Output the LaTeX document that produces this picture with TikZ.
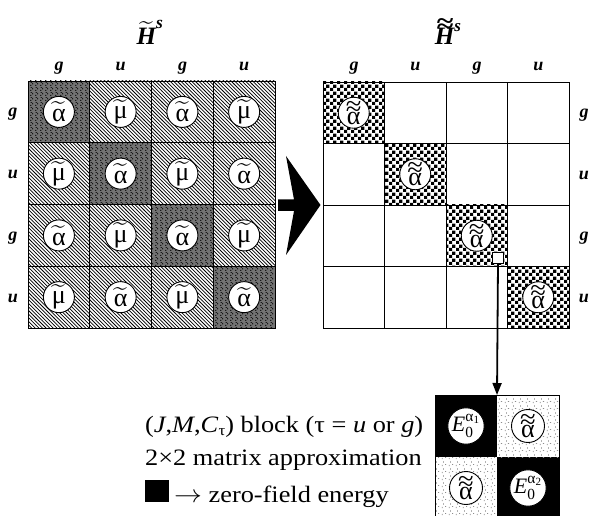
\documentclass[tikz,border=0pt]{standalone}
\usepackage{amsmath}
\usepackage{fontspec}
\setmainfont{Liberation Serif}
\usetikzlibrary{patterns,arrows.meta}
\pgfdeclarepatternformonly{mychecker}{\pgfpointorigin}{\pgfqpoint{6.6pt}{6.6pt}}{\pgfqpoint{6.6pt}{6.6pt}}{%
  \pgfpathrectangle{\pgfpointorigin}{\pgfqpoint{3.35pt}{3.35pt}}%
  \pgfpathrectangle{\pgfqpoint{3.3pt}{3.3pt}}{\pgfqpoint{3.35pt}{3.35pt}}%
  \pgfusepath{fill}}
\pgfdeclarepatternformonly{myhatch}{\pgfqpoint{-1pt}{-1pt}}{\pgfqpoint{5pt}{5pt}}{\pgfqpoint{3.6pt}{3.6pt}}{%
  \pgfsetlinewidth{0.75pt}%
  \pgfpathmoveto{\pgfqpoint{0pt}{3.6pt}}\pgfpathlineto{\pgfqpoint{3.7pt}{-0.1pt}}%
  \pgfusepath{stroke}}
\pgfdeclarepatternformonly{mydots}{\pgfpointorigin}{\pgfqpoint{7pt}{7pt}}{\pgfqpoint{7pt}{7pt}}{%
  \pgfpathrectangle{\pgfqpoint{1pt}{1pt}}{\pgfqpoint{0.8pt}{1.4pt}}%
  \pgfpathrectangle{\pgfqpoint{4.5pt}{2.5pt}}{\pgfqpoint{1.2pt}{0.7pt}}%
  \pgfpathrectangle{\pgfqpoint{2.5pt}{5pt}}{\pgfqpoint{0.7pt}{1.2pt}}%
  \pgfusepath{fill}}
\pgfdeclarepatternformonly{mynoise}{\pgfpointorigin}{\pgfqpoint{5pt}{5pt}}{\pgfqpoint{5pt}{5pt}}{%
  \pgfpathrectangle{\pgfqpoint{0pt}{0pt}}{\pgfqpoint{1.5pt}{1.2pt}}%
  \pgfpathrectangle{\pgfqpoint{2.6pt}{1.8pt}}{\pgfqpoint{1.2pt}{1.6pt}}%
  \pgfpathrectangle{\pgfqpoint{0.8pt}{3.6pt}}{\pgfqpoint{1.6pt}{1pt}}%
  \pgfusepath{fill}}
% double tilde built from the ≈ glyph stacked on a letter
\newcommand{\dtil}[2]{\leavevmode\vbox{\offinterlineskip\halign{\hfil##\hfil\cr\scalebox{#2}[1.05]{≈}\cr\noalign{\kern-3.5pt}#1\cr}}}
\newcommand{\ta}{$\widetilde{\text{α}}$}
\newcommand{\tm}{$\widetilde{\text{μ}}$}
\newcommand{\tta}{\dtil{α}{1.1}}
\newcommand{\Ez}[1]{$\text{\itshape E}_{\text{0}}^{\text{α}_{\text{#1}}}$}
\tikzset{
  elem/.style={circle,draw,fill=white,line width=0.9pt,minimum size=31pt,inner sep=0pt,font=\fontsize{26}{26}\selectfont},
  selem/.style={circle,draw,fill=white,line width=0.9pt,minimum size=33pt,inner sep=0pt,font=\fontsize{26}{26}\selectfont},
  eelem/.style={selem,font=\fontsize{22}{22}\selectfont},
  lab/.style={anchor=base,inner sep=0pt,font=\fontsize{18}{18}\selectfont\bfseries\itshape},
  ttl/.style={anchor=base,inner sep=0pt,font=\fontsize{25}{25}\selectfont\bfseries\itshape},
  captxt/.style={anchor=base west,font=\fontsize{23.5}{23.5}\selectfont,inner sep=0pt},
  gridline/.style={draw,line width=0.8pt}
}
\begin{document}
\begin{tikzpicture}[x=1pt,y=-1pt]
\useasboundingbox (0,0) rectangle (590,516);
% ---------- left matrix ----------
\foreach \r in {0,...,3}{
  \foreach \c in {0,...,3}{
    \pgfmathsetmacro\xa{28+61.75*\c}
    \pgfmathsetmacro\ya{81+61.75*\r}
    \pgfmathtruncatemacro\pp{mod(\r+\c,2)}
    \ifnum\r=\c
      \fill[black!55] (\xa,\ya) rectangle ++(61.75,61.75);
      \fill[pattern=mynoise,pattern color=black!90] (\xa,\ya) rectangle ++(61.75,61.75);
    \else
      \fill[pattern=myhatch,pattern color=black] (\xa,\ya) rectangle ++(61.75,61.75);
    \fi
    \draw[gridline] (\xa,\ya) rectangle ++(61.75,61.75);
    \ifnum\pp=0
      \node[elem] (L\r\c) at (\xa+30.9,\ya+30.9) {\ta};
    \else
      \node[elem] (L\r\c) at (\xa+30.9,\ya+30.9) {\tm};
    \fi
  }
}
% ---------- right matrix ----------
\foreach \r in {0,...,3}{
  \foreach \c in {0,...,3}{
    \pgfmathsetmacro\xa{323+61.5*\c}
    \pgfmathsetmacro\ya{82+61.5*\r}
    \ifnum\r=\c
      \fill[pattern=mychecker,pattern color=black] (\xa,\ya) rectangle ++(61.5,61.5);
      \draw[gridline] (\xa,\ya) rectangle ++(61.5,61.5);
      \node[elem] (R\r\c) at (\xa+30.75,\ya+30.75) {\tta};
    \else
      \draw[gridline] (\xa,\ya) rectangle ++(61.5,61.5);
    \fi
  }
}
% titles
\node[ttl] (tl) at (150,45) {$\widetilde{\text{\bfseries\itshape H}}^{\text{\bfseries\itshape s}}$};
\node[ttl] (tr) at (448,45) {\dtil{H}{1.25}\raisebox{13pt}{\fontsize{17}{17}\selectfont s}};
% row / column labels
\foreach \t [count=\k from 0] in {g,u,g,u}{
  \node[lab] (cl\k) at (59+61.75*\k,71) {\t};
  \node[lab] (rl\k) at (13,117+61.75*\k) {\t};
  \node[lab] (cr\k) at (354+61.5*\k,71) {\t};
  \node[lab] (rr\k) at (584,118+61.5*\k) {\t};
}
% big arrow
\fill (278,199.5) -- (294,199.5) -- (286,156) -- (320.5,205) -- (286,255) -- (294,211) -- (278,211) -- cycle;
% small square
\node[draw,fill=white,line width=0.9pt,minimum size=11pt,inner sep=0pt] (sq) at (498,257.5) {};
% small matrix
\fill (435,395) rectangle (497,457);
\fill (497,457) rectangle (559,519);
\fill[pattern=mydots,pattern color=black!45] (497,395) rectangle (559,457);
\fill[pattern=mydots,pattern color=black!45] (435,457) rectangle (497,519);
\draw[line width=0.8pt] (435,395) rectangle (559,519);
\coordinate (smtop) at (497,395);
\node[eelem] (e1) at (466,426) {\Ez{1}};
\node[selem] (a12) at (528,426) {\tta};
\node[selem] (a21) at (466,488) {\tta};
\node[eelem] (e2) at (528,488) {\Ez{2}};
\draw[line width=1.8pt,-{Triangle[length=12pt,width=9pt]}] (sq.south) -- (smtop);
% captions
\node[captxt] (c1) at (145,432) {\scalebox{1.12}[1]{(\textit{J},\textit{M},\textit{C}\raisebox{-0.35ex}{\fontsize{15}{15}\selectfont τ}) block (τ = \textit{u} or \textit{g})}};
\node[captxt] (c2) at (145,465) {\scalebox{1.12}[1]{2×2 matrix approximation}};
\node[captxt] (c3) at (145,502) {\rule{24pt}{22pt}\hspace{5pt}\scalebox{1.12}[1]{$\rightarrow$ zero-field energy}};
\end{tikzpicture}
\end{document}
